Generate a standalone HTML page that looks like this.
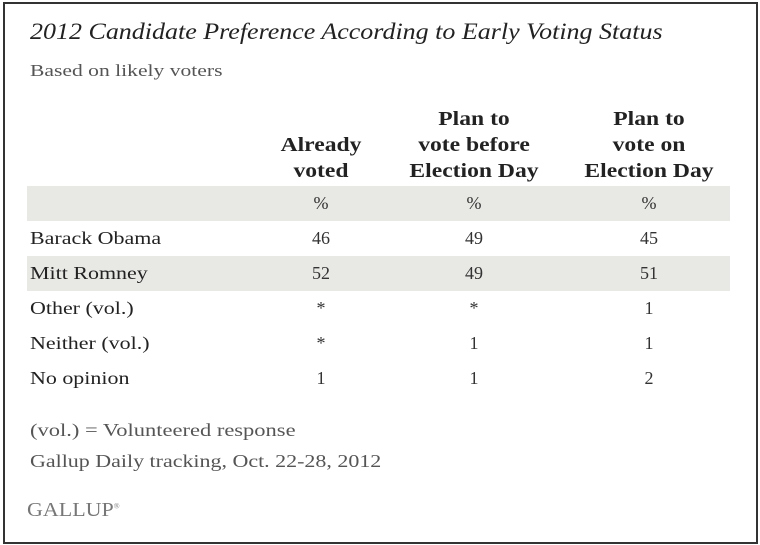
<!DOCTYPE html>
<html><head><meta charset="utf-8"><style>
body{margin:0;background:#fff;width:760px;height:545px;overflow:hidden;font-family:"Liberation Serif",serif;color:#222}
#frame{position:absolute;left:3px;top:2px;width:751px;height:538px;border:2px solid #333;}
.t{position:absolute;white-space:nowrap;transform-origin:left top}
.band{position:absolute;left:27px;width:703px;height:35px;background:#e8e8e5}
.h{position:absolute;font-weight:bold;font-size:20px;text-align:center;line-height:26px;color:#222;transform:scaleX(1.18)}
.c{position:absolute;width:120px;text-align:center;font-size:18px;color:#333}
.l{position:absolute;left:30px;font-size:18px;color:#222;white-space:nowrap;transform-origin:left top;transform:scaleX(1.22)}
</style></head><body>
<div id="frame"></div>
<div class="t" style="left:30px;top:19px;font-size:23px;font-style:italic;color:#222;transform:scaleX(1.13)">2012 Candidate Preference According to Early Voting Status</div>
<div class="t" style="left:30px;top:61px;font-size:17px;color:#555;transform:scaleX(1.27)">Based on likely voters</div>
<div class="h" style="left:251px;top:132px;width:140px">Already<br>voted</div>
<div class="h" style="left:394px;top:106px;width:160px">Plan to<br>vote before<br>Election Day</div>
<div class="h" style="left:569px;top:106px;width:160px">Plan to<br>vote on<br>Election Day</div>
<div class="band" style="top:186px"></div>
<div class="band" style="top:256px"></div>
<div id="rows"></div>
<div class="t" style="left:30px;top:420px;font-size:18px;color:#555;transform:scaleX(1.25)">(vol.) = Volunteered response</div>
<div class="t" style="left:30px;top:451px;font-size:18px;color:#555;transform:scaleX(1.22)">Gallup Daily tracking, Oct. 22-28, 2012</div>
<div class="t" style="left:27px;top:499px;font-size:20px;color:#777;transform:scaleX(1.1)">GALLUP<sup style="font-size:7px">®</sup></div>
<script>
const labels=["","Barack Obama","Mitt Romney","Other (vol.)","Neither (vol.)","No opinion"];
const colAlready=["%","46","52","*","*","1"];
const colBefore=["%","49","49","*","1","1"];
const colOn=["%","45","51","1","1","2"];
const centers=[321,474,649];
const rows=document.getElementById('rows');
labels.forEach((lab,i)=>{
  const top=192+i*35;
  if(lab){
    const d=document.createElement('div');d.className='l';d.style.top=(top+1)+'px';d.textContent=lab;
    
    
    rows.appendChild(d);
  }
  [colAlready,colBefore,colOn].forEach((col,j)=>{
    const c=document.createElement('div');c.className='c';c.style.left=(centers[j]-60)+'px';c.style.top=(top+1)+'px';c.textContent=col[i];
    
    
    rows.appendChild(c);
  });
});
</script>
</body></html>
